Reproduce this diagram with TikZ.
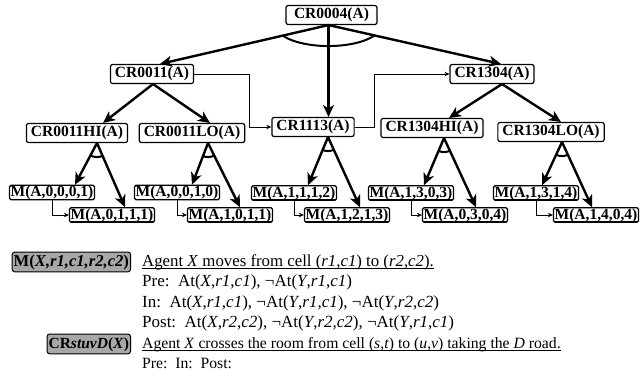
\documentclass[tikz,border=0pt]{standalone}
\usepackage{fontspec}
\setmainfont{Liberation Serif}
\usetikzlibrary{arrows.meta,calc}
\newcommand\myul[1]{\setbox0\hbox{#1}\rlap{\vrule height -1.6pt depth 2.4pt width \wd0}\box0}
\definecolor{legendgray}{RGB}{168,168,168}
\newcommand\myandarc[3]{\draw[andarcline] let \p1=($(#2)-(#1)$), \p2=($(#3)-(#1)$),
  \n1={atan2(\y1,\x1)}, \n2={atan2(\y2,\x2)} in
  ($(#1)+(\n1:14pt)$) arc[start angle=\n1, end angle=\n2, radius=14pt];}
\tikzset{
  crbox/.style={draw, line width=1.2pt, rounded corners=2pt, inner xsep=4.5pt, inner ysep=2.2pt,
    text height=11pt, text depth=3.5pt, font=\fontsize{15.5}{16}\selectfont\bfseries},
  mbox/.style={draw, line width=1.2pt, rounded corners=1.5pt, inner xsep=1.2pt, inner ysep=0.6pt,
    text height=11pt, text depth=2.2pt, font=\fontsize{15.5}{16}\selectfont\bfseries},
  bigarrow/.style={line width=2.4pt, -{Stealth[length=12pt,width=11pt,inset=3.5pt]}},
  thinarrow/.style={line width=1pt, -{Stealth[length=5pt,width=4.5pt]}},
  andarcline/.style={line width=2pt},
  legbox/.style={draw, fill=legendgray, line width=1pt, rounded corners=2.5pt, inner xsep=1.5pt,
    inner ysep=2pt, text height=12pt, text depth=3.8pt},
  legtxt/.style={anchor=base west, inner sep=0pt, font=\fontsize{17}{20}\selectfont},
  legsmall/.style={anchor=base west, inner sep=0pt, font=\fontsize{15.7}{20}\selectfont}
}
\begin{document}
\begin{tikzpicture}[x=1pt,y=1pt]
\useasboundingbox (0,0) rectangle (644,-376);
% tree nodes
\node[crbox, minimum width=91pt] (cr0004) at (331.5,-15) {CR0004(A)};
\node[crbox] (cr0011) at (152,-74) {CR0011(A)};
\node[crbox] (cr1304) at (492,-74) {CR1304(A)};
\node[crbox] (cr1113) at (313,-127) {CR1113(A)};
\node[crbox] (cr0011hi) at (77,-133) {CR0011HI(A)};
\node[crbox] (cr0011lo) at (192,-133) {CR0011LO(A)};
\node[crbox] (cr1304hi) at (432,-128) {CR1304HI(A)};
\node[crbox] (cr1304lo) at (551,-132) {CR1304LO(A)};
\node[mbox] (m1) at (52,-192.5) {\myul{M(A,0,0,0,1)}};
\node[mbox] (m2) at (112,-215) {\myul{M(A,0,1,1,1)}};
\node[mbox] (m3) at (177,-192.5) {\myul{M(A,0,0,1,0)}};
\node[mbox] (m4) at (230,-215) {\myul{M(A,1,0,1,1)}};
\node[mbox] (m5) at (294,-193) {\myul{M(A,1,1,1,2)}};
\node[mbox] (m6) at (347,-215) {\myul{M(A,1,2,1,3)}};
\node[mbox] (m7) at (411,-193) {\myul{M(A,1,3,0,3)}};
\node[mbox] (m8) at (465,-215) {\myul{M(A,0,3,0,4)}};
\node[mbox] (m9) at (536,-193) {\myul{M(A,1,3,1,4)}};
\node[mbox] (m10) at (596,-215) {\myul{M(A,1,4,0,4)}};
% top level (AND)
\coordinate (a0) at ([xshift=-3pt]cr0004.south);
\draw[bigarrow] (a0) -- ([xshift=8pt]cr0011.north);
\draw[bigarrow] (a0) -- (a0 |- cr1113.north);
\draw[bigarrow] (a0) -- ([xshift=9pt]cr1304.north);
\draw[andarcline] (a0) ++(-150.3:53pt and 21pt) arc[start angle=-150.3, end angle=-28.4, x radius=53pt, y radius=21pt];
% second level (OR)
\coordinate (a1) at ([xshift=1pt]cr0011.south);
\draw[bigarrow] (a1) -- ([xshift=26pt]cr0011hi.north);
\draw[bigarrow] (a1) -- ([xshift=18pt]cr0011lo.north);
\coordinate (a2) at ([xshift=10pt]cr1304.south);
\draw[bigarrow] (a2) -- ([xshift=17pt]cr1304hi.north);
\draw[bigarrow] (a2) -- ([xshift=10pt]cr1304lo.north);
% thin ordering connectors
\draw[thinarrow] (cr0011.east) -| ($(cr1113.west)+(-22pt,0)$) -- (cr1113.west);
\draw[thinarrow] (cr1113.east) -| ($(cr1304.west)+(-75pt,0)$) -- (cr1304.west);
% third level (AND)
\coordinate (b1) at ([xshift=20pt]cr0011hi.south);
\coordinate (t1) at ([xshift=23pt]m1.north);
\coordinate (u1) at ([xshift=13pt]m2.north);
\coordinate (b2) at ([xshift=16pt]cr0011lo.south);
\coordinate (t2) at ([xshift=15pt]m3.north);
\coordinate (u2) at ([xshift=10pt]m4.north);
\coordinate (b3) at ([xshift=15pt]cr1113.south);
\coordinate (t3) at ([xshift=14pt]m5.north);
\coordinate (u3) at ([xshift=13pt]m6.north);
\coordinate (b4) at ([xshift=12pt]cr1304hi.south);
\coordinate (t4) at ([xshift=13pt]m7.north);
\coordinate (u4) at ([xshift=11pt]m8.north);
\coordinate (b5) at ([xshift=11pt]cr1304lo.south);
\coordinate (t5) at ([xshift=6pt]m9.north);
\coordinate (u5) at ([xshift=-4pt]m10.north);
\foreach \i in {1,...,5}{
  \draw[bigarrow] (b\i) -- (t\i);
  \draw[bigarrow] (b\i) -- (u\i);
  \myandarc{b\i}{t\i}{u\i}
}
\draw[thinarrow] (m1.south) |- (m2.west);
\draw[thinarrow] (m3.south) |- (m4.west);
\draw[thinarrow] (m5.south) |- (m6.west);
\draw[thinarrow] (m7.south) |- (m8.west);
\draw[thinarrow] (m9.south) |- (m10.west);
% legend
\node[legbox, anchor=base east, font=\fontsize{16.6}{18}\selectfont\bfseries] (lm) at (131,-266) {M(\textit{X,r1,c1,r2,c2})};
\node[legbox, anchor=base east, font=\fontsize{15.5}{18}\selectfont\bfseries] (lcr) at (131,-348) {CR\textit{stuvD}(\textit{X})};
\node[legtxt, font=\fontsize{16.8}{20}\selectfont] (l1) at (142,-266) {\myul{Agent \textit{X} moves from cell (\textit{r1},\textit{c1}) to (\textit{r2},\textit{c2}).}};
\node[legtxt] (l2) at (142,-286.5) {Pre:\ \ At(\textit{X},\textit{r1},\textit{c1}), ¬At(\textit{Y},\textit{r1},\textit{c1})};
\node[legtxt] (l3) at (142,-307) {In:\ \ At(\textit{X},\textit{r1},\textit{c1}), ¬At(\textit{Y},\textit{r1},\textit{c1}), ¬At(\textit{Y},\textit{r2},\textit{c2})};
\node[legtxt] (l4) at (142,-327.5) {Post:\ \ At(\textit{X},\textit{r2},\textit{c2}), ¬At(\textit{Y},\textit{r2},\textit{c2}), ¬At(\textit{Y},\textit{r1},\textit{c1})};
\node[legsmall] (l5) at (142,-348) {\myul{Agent \textit{X} crosses the room from cell (\textit{s},\textit{t}) to (\textit{u},\textit{v}) taking the \textit{D} road.}};
\node[legsmall] (l6) at (142,-368.5) {Pre:\ \ In:\ \ Post:};
\end{tikzpicture}
\end{document}
